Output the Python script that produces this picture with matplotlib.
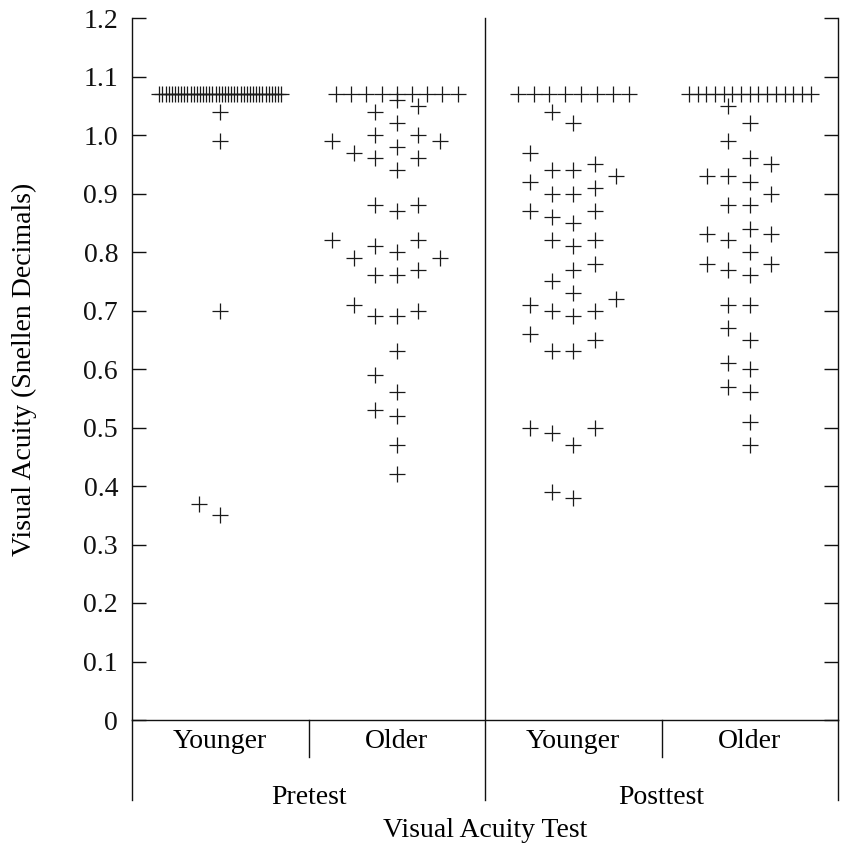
import numpy as np
import matplotlib.pyplot as plt

plt.rcParams['font.family'] = ['Liberation Serif', 'DejaVu Serif']

# Visual acuity (Snellen decimals) per participant
pre_younger = [1.07] * 40 + [1.04, 0.99, 0.70, 0.37, 0.35]
pre_older = [1.07] * 9 + [1.06, 1.04, 1.05, 1.02, 1.00, 0.99, 0.99, 1.00, 0.98,
                          0.96, 0.96, 0.97, 0.94, 0.88, 0.87, 0.88, 0.82, 0.81,
                          0.82, 0.80, 0.79, 0.79, 0.76, 0.76, 0.77, 0.70, 0.69,
                          0.69, 0.71, 0.63, 0.59, 0.56, 0.53, 0.52, 0.47, 0.42]
post_younger = [1.07] * 8 + [1.04, 1.02, 0.97, 0.94, 0.93, 0.91, 0.92, 0.94, 0.95,
                             0.90, 0.90, 0.85, 0.87, 0.86, 0.87, 0.82, 0.81, 0.82,
                             0.77, 0.78, 0.75, 0.72, 0.73, 0.70, 0.69, 0.70, 0.71,
                             0.66, 0.63, 0.63, 0.65, 0.50, 0.47, 0.49, 0.50, 0.39,
                             0.38]
post_older = [1.07] * 15 + [1.05, 1.02, 0.99, 0.96, 0.95, 0.93, 0.93, 0.92, 0.90,
                            0.88, 0.88, 0.84, 0.83, 0.83, 0.82, 0.80, 0.78, 0.78,
                            0.77, 0.76, 0.71, 0.71, 0.67, 0.65, 0.61, 0.60, 0.57,
                            0.56, 0.51, 0.47]

groups = ['Younger', 'Older', 'Younger', 'Older']
tests = ['Pretest', 'Posttest']
series = [pre_younger, pre_older, post_younger, post_older]
yticks = np.round(np.arange(0, 1.21, 0.1), 1)

FS = 20


def swarm_offsets(values, step=0.122, row_step=0.09, row_width=0.69, gap=0.04):
    # ties at the ceiling go in one packed row, the rest in a column swarm
    v = np.asarray(values, float)
    offs = np.zeros(len(v))
    ceil = np.isclose(v, v.max())
    n = ceil.sum()
    if n > 1:
        s = min(row_step, row_width / (n - 1))
        offs[ceil] = (np.arange(n) - (n - 1) / 2) * s
    order = [0]
    for k in range(1, 10):
        order += [-k, k]
    placed = {}
    for i in np.argsort(v, kind='stable'):
        if ceil[i] and n > 1:
            continue
        for k in order:
            col = placed.setdefault(k, [])
            if all(abs(v[i] - u) >= gap - 1e-9 for u in col):
                col.append(v[i])
                offs[i] = k * step
                break
    return offs


fig = plt.figure(figsize=(8.41, 8.47), dpi=100)
ax = fig.add_axes([132 / 841, 1 - 720 / 847, 706 / 841, 702 / 847])

for i, vals in enumerate(series):
    x = i + swarm_offsets(vals)
    ax.plot(x, vals, '+', ms=12, mew=0.9, color='#1a1a1a', clip_on=False)

ax.set_xlim(-0.5, 3.5)
ax.set_ylim(0, 1.2)
ax.set_yticks(yticks)
ax.set_yticklabels(['0' if t == 0 else f'{t:.1f}' for t in yticks])
ax.set_xticks([])
ax.tick_params(axis='y', direction='in', length=10, width=1, pad=10,
               labelsize=FS, right=True, labelright=False, colors='#111111')
ax.spines['top'].set_visible(False)
for s in ['left', 'right', 'bottom']:
    ax.spines[s].set_linewidth(1)
    ax.spines[s].set_color('#111111')

# category frame under the axis
tr = ax.get_xaxis_transform()
line_kw = dict(color='#111111', lw=1, transform=tr, clip_on=False)
ax.plot([1.5, 1.5], [-0.114, 1], **line_kw)
for xb in [-0.5, 3.5]:
    ax.plot([xb, xb], [-0.114, 0], **line_kw)
for xb in [0.5, 2.5]:
    ax.plot([xb, xb], [-0.053, 0], **line_kw)

for i, g in enumerate(groups):
    ax.text(i, -0.031, g, transform=tr, ha='center', va='center', fontsize=FS)
for j, t in enumerate(tests):
    ax.text(0.5 + 2 * j, -0.111, t, transform=tr, ha='center', va='center', fontsize=FS)
ax.text(1.5, -0.157, 'Visual Acuity Test', transform=tr, ha='center', va='center',
        fontsize=FS)

ax.set_ylabel('Visual Acuity (Snellen Decimals)', fontsize=FS)
ax.yaxis.set_label_coords(-0.135, 0.5)

fig.savefig('out.png', dpi=100)
